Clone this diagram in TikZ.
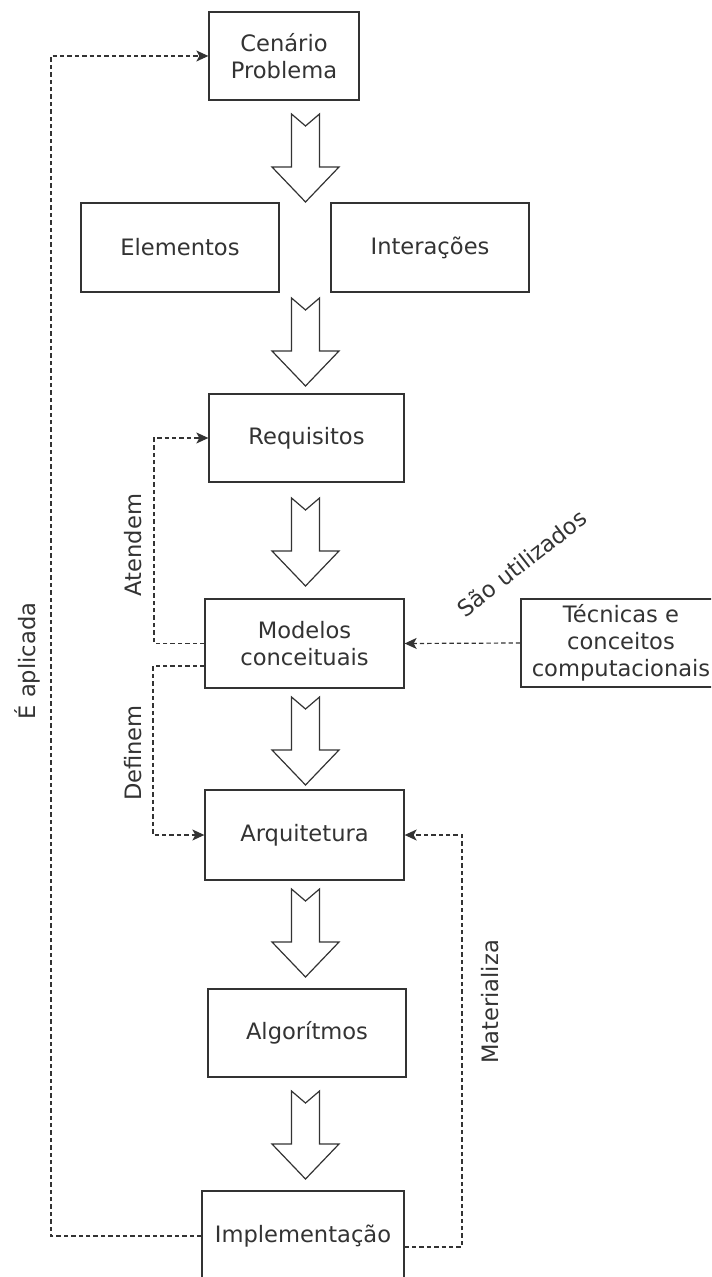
\documentclass[tikz,border=0pt]{standalone}
\usepackage{fontspec}
\setmainfont{DejaVu Sans}
\usetikzlibrary{arrows.meta}
\definecolor{ink}{HTML}{333333}
\begin{document}
\begin{tikzpicture}[x=0.5pt,y=-0.5pt,
  every node/.style={text=ink,font=\fontsize{11.3}{13.5}\selectfont},
  box/.style={draw=ink,line width=0.65pt,rectangle,align=center,inner sep=2pt},
  blockline/.style={draw=ink,line width=0.6pt,line join=miter,fill=white},
  link/.style={draw=ink,line width=0.6pt,dash pattern=on 2.2pt off 1.5pt},
  linkarrow/.style={link,-{Stealth[length=6pt,width=5.5pt,inset=1.5pt]}},
  lbl/.style={inner sep=0pt},
  barrow/.pic={\path[blockline] (-14,0) -- (0,12) -- (14,0) -- (14,53) -- (33.5,53)
      -- (0,88) -- (-33.5,53) -- (-14,53) -- cycle;}
]
\useasboundingbox (0,0) rectangle (711,1277);
\clip (0,0) rectangle (711,1277);

% process boxes
\node[box,minimum width=75pt,minimum height=44pt] (cen) at (284,56) {Cenário\\Problema};
\node[box,minimum width=99pt,minimum height=44.5pt] (ele) at (180,247.5) {Elementos};
\node[box,minimum width=99pt,minimum height=44.5pt] (int) at (430,247.5) {Interações};
\node[box,minimum width=97.5pt,minimum height=44pt] (req) at (306.5,438) {Requisitos};
\node[box,minimum width=99.5pt,minimum height=44.5pt] (mod) at (304.5,643.5) {Modelos\\conceituais};
\node[box,minimum width=100pt,minimum height=44pt] (tec) at (621,643) {Técnicas e\\conceitos\\computacionais};
\node[box,minimum width=99.5pt,minimum height=45pt] (arq) at (304.5,835) {Arquitetura};
\node[box,minimum width=99pt,minimum height=44pt] (alg) at (307,1033) {Algorítmos};
\node[box,minimum width=101pt,minimum height=45pt] (imp) at (303,1236) {Implementação};

% hollow block arrows between stages
\pic at (305.5,114) {barrow};
\pic at (305.5,298) {barrow};
\pic at (305.5,498) {barrow};
\pic at (305.5,697) {barrow};
\pic at (305.5,889) {barrow};
\pic at (305.5,1091) {barrow};

% dashed feedback links
\coordinate (la) at (51,56);
\coordinate (lu) at (154,438);
\coordinate (ld) at (153,835);
\coordinate (ri) at (462,835);

\draw[linkarrow] (imp.west) -| (la) -- (cen.west);
\draw[linkarrow] ([yshift=-5.5pt]imp.east) -| (ri) -- (arq.east);
\draw[linkarrow] (mod.west) -| (lu) -- (req.west);
\draw[linkarrow] ([yshift=-11.25pt]mod.west) -| (ld) -- (arq.west);
\draw[linkarrow] (tec.west) -- (mod.east);

% link labels
\node[lbl,rotate=90] (lapl) at (27,661) {É aplicada};
\node[lbl,rotate=90] (late) at (133,545) {Atendem};
\node[lbl,rotate=90] (ldef) at (133,753) {Definem};
\node[lbl,rotate=90] (lmat) at (490,1002) {Materializa};
\node[lbl,rotate=38] (luti) at (522,563) {São utilizados};
\end{tikzpicture}
\end{document}
